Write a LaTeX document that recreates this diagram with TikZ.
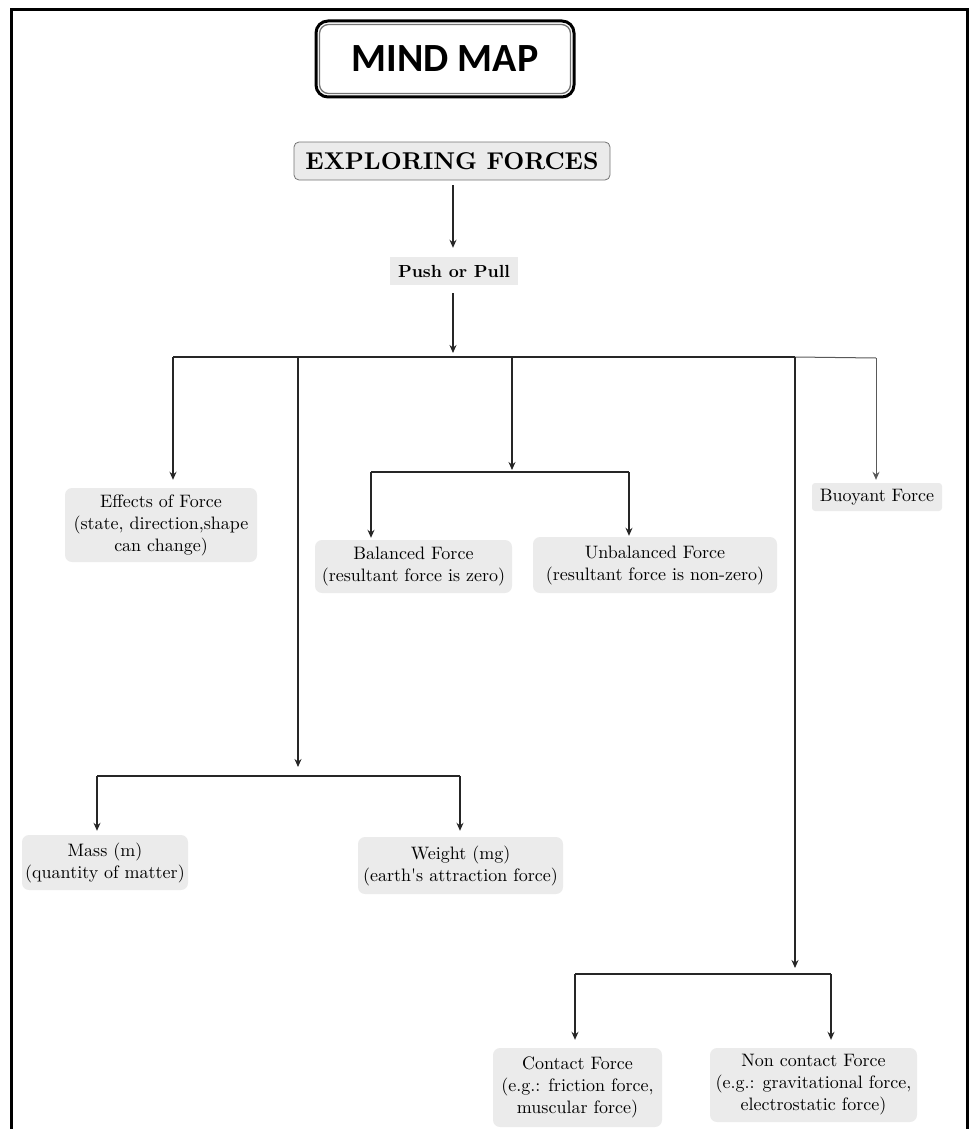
\documentclass[tikz,border=0pt]{standalone}
\usepackage{fontspec}
\newfontfamily\carlito{Carlito}
\newfontfamily\cmten{lmroman10-regular.otf}[BoldFont=lmroman10-bold.otf]
\usetikzlibrary{arrows.meta,calc}
\definecolor{boxgray}{HTML}{EBEBEB}
\definecolor{linec}{HTML}{262626}
\tikzset{
  fbox/.style={fill=boxgray, rounded corners=7pt, align=center, inner sep=0pt,
    font=\cmten\fontsize{18}{22}\selectfont},
  arr/.style={draw=linec, line width=1.4pt, -{Stealth[length=8pt,width=7pt]}},
  ln/.style={draw=linec, line width=1.4pt},
  thinln/.style={draw=black!65, line width=1pt},
}
\begin{document}
\begin{tikzpicture}[x=1pt,y=-1pt]
\useasboundingbox (0,0) rectangle (969,1129);
% frame
\draw[line width=3pt] (11,1129) -- (11,10) -- (967,10) -- (967,1129);

% title box
\node[draw=black, line width=3pt, rounded corners=12pt, minimum width=258pt, minimum height=76pt,
  font=\carlito\bfseries\fontsize{40}{44}\selectfont] (mind) at (445,59) {MIND MAP};
\draw[black!55, line width=1.3pt, rounded corners=9pt]
  ($(mind.north west)+(5,5)$) rectangle ($(mind.south east)+(-5,-5)$);

\node[fill=boxgray, draw=black!55, line width=0.8pt, rounded corners=5pt, minimum width=316pt, minimum height=38pt,
  inner sep=0pt, font=\cmten\bfseries\fontsize{24.3}{28}\selectfont] (title) at (452,161) {EXPLORING FORCES};

\node[fill=boxgray, minimum width=128pt, minimum height=28pt, inner sep=0pt,
  font=\cmten\bfseries\fontsize{17.5}{20}\selectfont] (push) at (454,271) {Push or Pull};

\node[fbox, minimum width=192pt, minimum height=74pt] (eff) at (161,525)
  {Effects of Force\\(state, direction,shape\\can change)};
\node[fbox, minimum width=197pt, minimum height=53pt] (bal) at (413.5,566.5)
  {Balanced Force\\(resultant force is zero)};
\node[fbox, minimum width=244pt, minimum height=56pt] (unb) at (655,565)
  {Unbalanced Force\\(resultant force is non-zero)};
\node[fbox, rounded corners=3pt, minimum width=130pt, minimum height=28pt] (buoy) at (877,497)
  {Buoyant Force};
\node[fbox, minimum width=166pt, minimum height=55pt] (mass) at (105,862.5)
  {Mass (m)\\(quantity of matter)};
\node[fbox, minimum width=205pt, minimum height=57pt] (weight) at (460.5,865.5)
  {Weight (mg)\\(earth's attraction force)};
\node[fbox, minimum width=169pt, minimum height=79pt] (contact) at (577.5,1087.5)
  {Contact Force\\(e.g.: friction force,\\muscular force)};
\node[fbox, minimum width=207pt, minimum height=74pt] (noncon) at (813.5,1085)
  {Non contact Force\\(e.g.: gravitational force,\\electrostatic force)};

% junction coordinates
\coordinate (j0) at (453,357);
\coordinate (c1) at (173,357);
\coordinate (c2) at (298,357);
\coordinate (c3) at (512,357);
\coordinate (c5) at (795,357);
\coordinate (c6) at (876,358);
\coordinate (j3) at (512,472);
\coordinate (b1) at (371,472);
\coordinate (b2) at (629,472);
\coordinate (j2) at (298,776);
\coordinate (m1) at (97,776);
\coordinate (m2) at (460,776);
\coordinate (j5) at (795,974);
\coordinate (k1) at (575,974);
\coordinate (k2) at (831,974);

% connectors
\draw[arr, shorten <=5pt, shorten >=9pt] (title.south -| j0) -- (push.north -| j0);
\draw[arr, shorten <=8pt, shorten >=4pt] (push.south -| j0) -- (j0);
\draw[ln, line width=1.8pt] (c1) -- (c5);
\draw[thinln] (c5) -- (c6);

\draw[arr, shorten >=8pt] (c1) -- (c1 |- eff.north);

\draw[arr, shorten >=2pt] (c3) -- (j3);
\draw[ln] (b1) -- (b2);
\draw[arr, shorten >=2pt] (b1) -- (b1 |- bal.north);
\draw[arr, shorten >=1pt] (b2) -- (b2 |- unb.north);

\draw[thinln, -{Stealth[length=8pt,width=7pt]}, shorten >=3pt] (c6) -- (c6 |- buoy.north);

\draw[arr, shorten >=9pt] (c2) -- (j2);
\draw[ln] (m1) -- (m2);
\draw[arr, shorten >=4pt] (m1) -- (m1 |- mass.north);
\draw[arr, shorten >=6pt] (m2) -- (m2 |- weight.north);

\draw[arr, line width=1.2pt, shorten >=6pt] (c5) -- (j5);
\draw[ln] (k1) -- (k2);
\draw[arr, shorten >=8pt] (k1) -- (k1 |- contact.north);
\draw[arr, shorten >=8pt] (k2) -- (k2 |- noncon.north);
\end{tikzpicture}
\end{document}
